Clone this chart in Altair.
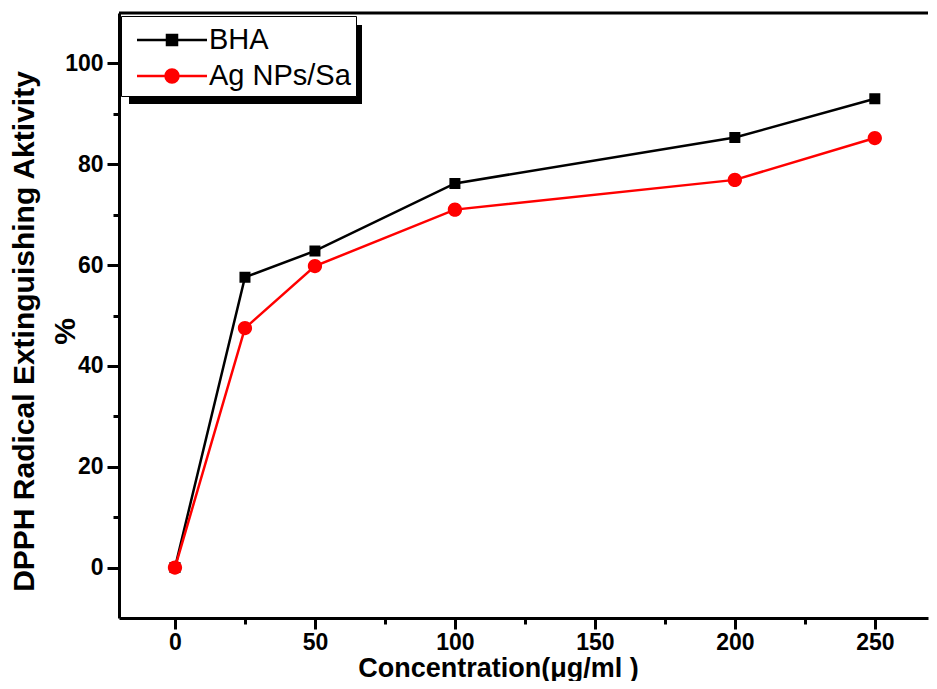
import altair as alt
import pandas as pd

# ---- data ----
conc = [0, 25, 50, 100, 200, 250]
bha = [0, 57.6, 62.8, 76.2, 85.3, 93.0]
agnps = [0, 47.5, 59.8, 71.0, 76.9, 85.2]
series_names = ["BHA", "Ag NPs/Sa"]
series_colors = ["#000000", "#ff0000"]
x_tick_values = [0, 25, 50, 75, 100, 125, 150, 175, 200, 225, 250]
y_tick_values = [0, 10, 20, 30, 40, 50, 60, 70, 80, 90, 100]

rows = [{"c": c, "v": v, "s": series_names[0]} for c, v in zip(conc, bha)] + \
       [{"c": c, "v": v, "s": series_names[1]} for c, v in zip(conc, agnps)]
df = pd.DataFrame(rows)

# symbols: a long line segment (stroke only, shows in legend) + filled marker
sq_path = "M-2,0H2M-0.286,-0.286H0.286V0.286H-0.286Z"
ci_path = "M-2,0H2M-0.371,0A0.371,0.371,0,1,0,0.371,0A0.371,0.371,0,1,0,-0.371,0Z"

W, H = 809, 605

color_scale = alt.Scale(domain=series_names, range=series_colors)
shape_scale = alt.Scale(domain=series_names, range=[sq_path, ci_path])

leg = alt.Legend(
    title=None, orient="none", legendX=2, legendY=3, zindex=2,
    fillColor="white", strokeColor="black", padding=5,
    symbolSize=1225, symbolStrokeWidth=2.5, symbolOffset=27, symbolOpacity=1,
    labelFont="Liberation Sans", labelFontSize=29, labelFontWeight="normal",
    labelColor="black", labelOffset=18, rowPadding=2,
)

x_enc = alt.X(
    "c:Q",
    scale=alt.Scale(domain=[-20, 269], nice=False, zero=False),
    axis=alt.Axis(
        values=x_tick_values,
        labelExpr="datum.value % 50 === 0 ? datum.label : ''",
        tickSize={"condition": {"test": "datum.value % 50 === 0", "value": 11}, "value": 6},
        title="Concentration(μg/ml )",
        titleX=379, titleY=58, titleAlign="center", titleBaseline="alphabetic",
        titleFontSize=27, labelPadding=2,
    ),
)
y_enc = alt.Y(
    "v:Q",
    scale=alt.Scale(domain=[-10, 110], nice=False, zero=False),
    axis=alt.Axis(
        values=y_tick_values,
        labelExpr="datum.value % 20 === 0 ? datum.label : ''",
        tickSize={"condition": {"test": "datum.value % 20 === 0", "value": 12}, "value": 6},
        title=["DPPH Radical Extinguishing Aktivity", "%"],
        titleAngle=270, titleX=-95, titleY=318, titleAlign="center", titleBaseline="middle",
        titleFontSize=30, titleLineHeight=41, labelPadding=4,
    ),
)

# one line layer per series (fixed colour, no legend-bearing channel)
line_layers = [
    alt.Chart(df).transform_filter(alt.datum.s == name)
    .mark_line(strokeWidth=2.5, color=col)
    .encode(x=x_enc, y=y_enc)
    for name, col in zip(series_names, series_colors)
]

points = alt.Chart(df).mark_point(size=1480, strokeWidth=0, opacity=1, fillOpacity=1).encode(
    x=x_enc, y=y_enc,
    fill=alt.Fill("s:N", scale=color_scale, legend=leg),
    stroke=alt.Stroke("s:N", scale=color_scale, legend=leg),
    shape=alt.Shape("s:N", scale=shape_scale, legend=leg),
)

deco = alt.Chart(alt.Data(values=[{}]))
shadow = deco.mark_rect(color="black").encode(
    x=alt.value(10), x2=alt.value(243), y=alt.value(12), y2=alt.value(91)
)
top_border = deco.mark_rule(color="black", strokeWidth=3).encode(
    x=alt.value(0), x2=alt.value(W), y=alt.value(0)
)

chart = alt.layer(shadow, *line_layers, points, top_border).properties(
    width=W, height=H,
    autosize=alt.AutoSizeParams(type="none"),
    padding={"left": 111, "top": 5, "right": 1, "bottom": 63},
).configure_view(stroke=None).configure_axis(
    grid=False, domainColor="black", domainWidth=3, tickColor="black", tickWidth=3,
    labelFont="Liberation Sans", labelFontWeight="bold", labelFontSize=23, labelColor="black",
    titleFont="Liberation Sans", titleFontWeight="bold", titleColor="black",
)

chart.save("out.html", embed_options={"renderer": "svg", "actions": False})
